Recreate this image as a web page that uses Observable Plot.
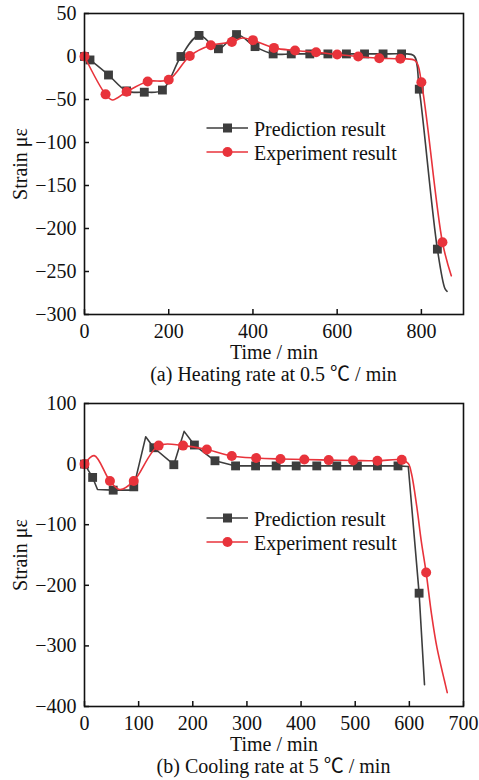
<!DOCTYPE html>
<html>
<head>
<meta charset="utf-8">
<script src="https://cdn.jsdelivr.net/npm/d3@7"></script>
<script src="https://cdn.jsdelivr.net/npm/@observablehq/plot@0.6"></script>
<style>
  html, body { margin: 0; padding: 0; background: #fff; }
  body { width: 479px; font-family: "Liberation Serif", "Times New Roman", serif; color: #111; }
  .panel { position: relative; width: 479px; }
  .caption { position: absolute; left: 84px; width: 379px; text-align: center; font-size: 20px; white-space: nowrap;
             font-family: "Liberation Serif", "Noto Sans CJK SC", serif; }
  .legend { position: absolute; left: 0; top: 0; pointer-events: none; }
</style>
</head>
<body>
<div id="chart"></div>
<script>
// (a) Heating rate at 0.5 ℃/min — marked samples
const timeA_pred   = [0, 13, 57, 100, 142, 185, 229, 272, 318, 361, 405, 448, 491, 535, 578, 622, 665, 709, 753, 795, 838];
const strainA_pred = [0, -4, -21.5, -40, -41.5, -39, 0, 24.5, 9, 25.5, 11.5, 3, 3, 3, 3, 3, 3, 3, 3, -38, -224];
// (a) extra points on the prediction trace between markers
const timeA_predTrace   = [782, 856, 861];
const strainA_predTrace = [1, -270, -273];

const timeA_exp   = [0, 50, 100, 150, 200, 250, 300, 350, 400, 450, 500, 550, 600, 650, 700, 750, 800, 850];
const strainA_exp = [0, -44, -41, -29, -27, 0.5, 13, 17, 19, 10, 7, 5, 2.3, 0, -2, -2.7, -30, -216];
const timeA_expTrace   = [66, 375, 786, 871];
const strainA_expTrace = [-50.5, 21.5, -5, -255];

// (b) Cooling rate at 5 ℃/min
const timeB_pred   = [0, 15, 53, 91, 128, 165, 203, 241, 279, 316, 354, 391, 429, 466, 504, 541, 579, 618];
const strainB_pred = [0, -22, -43, -37.5, 27, -1, 31.5, 5.5, -3, -3, -3, -3, -3, -3, -3, -3, -3, -213];
const timeB_predTrace   = [24, 85, 113, 184, 598, 628];
const strainB_predTrace = [-42, -43, 45, 54, -4, -364];

const timeB_exp   = [0, 47, 91, 137, 182, 226, 272, 317, 362, 406, 451, 496, 541, 586, 631];
const strainB_exp = [0, -28, -28, 30.5, 30.5, 24, 13.5, 10, 8.5, 7.7, 6.6, 6, 5.5, 7, -179];
const timeB_expTrace   = [18, 65, 598, 604, 614, 622, 641, 651, 665, 670];
const strainB_expTrace = [14, -42, 1, -16, -72, -127, -248, -303, -358, -377];

// axis ticks
const xTicksA = [0, 200, 400, 600, 800];
const yTicksA = [50, 0, -50, -100, -150, -200, -250, -300];
const xTicksB = [0, 100, 200, 300, 400, 500, 600, 700];
const yTicksB = [100, 0, -100, -200, -300, -400];

const seriesNames = ["Prediction result", "Experiment result"];
const captions = ["(a) Heating rate at 0.5 \u2103 / min", "(b) Cooling rate at 5 \u2103 / min"];

const GRAY = "#3d3d3d";
const RED = "#e8333b";
const FONT = '"Liberation Serif", "Times New Roman", serif';

const pts = (t, v) => t.map((d, i) => ({t: d, v: v[i]}));
const trace = (t, v, te, ve) => pts(t.concat(te), v.concat(ve)).sort((a, b) => a.t - b.t);

function panel(cfg) {
  const W = 479, mL = 84, mR = 16, mB = 46;
  const innerW = W - mL - mR;
  const innerH = cfg.height - cfg.marginTop - mB;
  const pred = pts(cfg.tp, cfg.vp);
  const exp = pts(cfg.te, cfg.ve);
  const predLine = trace(cfg.tp, cfg.vp, cfg.tpx, cfg.vpx);
  const expLine = trace(cfg.te, cfg.ve, cfg.tex, cfg.vex);

  const svg = Plot.plot({
    width: W,
    height: cfg.height,
    marginTop: cfg.marginTop,
    marginBottom: mB,
    marginLeft: mL,
    marginRight: mR,
    style: {fontFamily: FONT, fontSize: "20px", color: "#111", background: "#fff", overflow: "visible"},
    x: {domain: cfg.xDomain},
    y: {domain: cfg.yDomain},
    marks: [
      Plot.tickX(cfg.xTicks, {x: d => d, insetTop: innerH - 5, stroke: "#111", strokeWidth: 1.5}),
      Plot.tickY(cfg.yTicks, {y: d => d, insetRight: innerW - 5, stroke: "#111", strokeWidth: 1.5}),
      Plot.axisX({ticks: cfg.xTicks, tickSize: 0, tickPadding: 9, label: "Time / min", labelAnchor: "center", labelArrow: "none", labelOffset: 44}),
      Plot.axisY({ticks: cfg.yTicks, tickSize: 0, tickPadding: 8, label: "Strain \u03bc\u03b5", labelAnchor: "center", labelArrow: "none", labelOffset: 72}),
      Plot.line(predLine, {x: "t", y: "v", curve: cfg.predCurve, stroke: GRAY, strokeWidth: 1.6}),
      Plot.dot(pred, {x: "t", y: "v", symbol: "square", r: 5, fill: GRAY, stroke: "none"}),
      Plot.line(expLine, {x: "t", y: "v", curve: "catmull-rom", stroke: RED, strokeWidth: 1.6}),
      Plot.dot(exp, {x: "t", y: "v", symbol: "circle", r: 5, fill: RED, stroke: "none"}),
      Plot.frame({stroke: "#111", strokeWidth: 1.6})
    ]
  });

  const wrap = document.createElement("div");
  wrap.className = "panel";
  wrap.style.height = (cfg.height + 28) + "px";
  wrap.appendChild(svg);

  // legend: line + marker + label for each series
  const ly = cfg.marginTop + 115;
  const ns = "http://www.w3.org/2000/svg";
  const leg = document.createElementNS(ns, "svg");
  leg.setAttribute("class", "legend");
  leg.setAttribute("width", W);
  leg.setAttribute("height", cfg.height);
  const add = (tag, attrs, text) => {
    const el = document.createElementNS(ns, tag);
    for (const k in attrs) el.setAttribute(k, attrs[k]);
    if (text) el.textContent = text;
    leg.appendChild(el);
  };
  [GRAY, RED].forEach((c, i) => {
    const y = ly + i * 24;
    add("line", {x1: 206.5, x2: 248, y1: y, y2: y, stroke: c, "stroke-width": 1.6});
    if (i === 0) add("rect", {x: 227.5 - 4.5, y: y - 4.5, width: 9, height: 9, fill: c});
    else add("circle", {cx: 227.5, cy: y, r: 5, fill: c});
    add("text", {x: 254, y: y + 7.5, "font-family": FONT, "font-size": 20, fill: "#111"}, seriesNames[i]);
  });
  wrap.appendChild(leg);

  const cap = document.createElement("div");
  cap.className = "caption";
  cap.style.top = cfg.height + "px";
  cap.style.lineHeight = "28px";
  cap.textContent = cfg.caption;
  wrap.appendChild(cap);
  return wrap;
}

const root = document.getElementById("chart");
root.appendChild(panel({
  height: 360, marginTop: 13,
  xDomain: [0, 900], yDomain: [-300, 50], xTicks: xTicksA, yTicks: yTicksA,
  tp: timeA_pred, vp: strainA_pred, tpx: timeA_predTrace, vpx: strainA_predTrace,
  te: timeA_exp, ve: strainA_exp, tex: timeA_expTrace, vex: strainA_expTrace,
  predCurve: "catmull-rom", caption: captions[0]
}));
root.appendChild(panel({
  height: 364, marginTop: 15,
  xDomain: [0, 700], yDomain: [-400, 100], xTicks: xTicksB, yTicks: yTicksB,
  tp: timeB_pred, vp: strainB_pred, tpx: timeB_predTrace, vpx: strainB_predTrace,
  te: timeB_exp, ve: strainB_exp, tex: timeB_expTrace, vex: strainB_expTrace,
  predCurve: "linear", caption: captions[1]
}));
</script>
</body>
</html>
